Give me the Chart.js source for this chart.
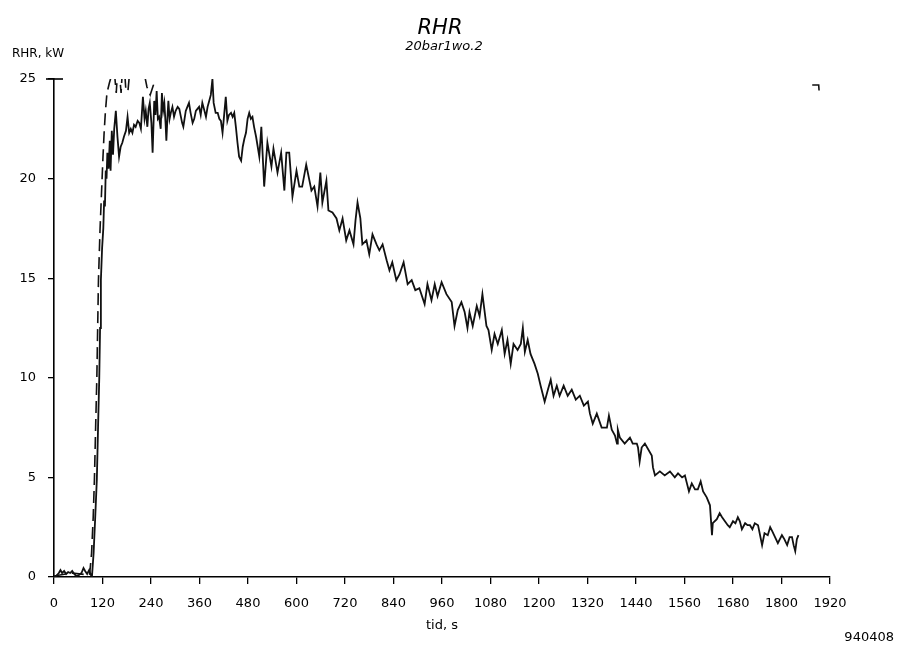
<!DOCTYPE html>
<html>
<head>
<meta charset="utf-8">
<title>RHR</title>
<script src="https://cdn.jsdelivr.net/npm/chart.js@4.4.1/dist/chart.umd.min.js"></script>
<style>
  html, body { margin: 0; padding: 0; background: #fff; }
  #wrap { width: 899px; height: 648px; }
</style>
</head>
<body>
<div id="wrap"><canvas id="rhrChart" width="899" height="648"></canvas></div>
<script>
// Solid trace: time (s) and heat release rate (kW)
var tid = [
  0, 5, 12, 16, 20, 25, 30, 35, 40, 45, 50, 55, 62, 68, 73, 77, 82, 87, 91, 94,
  98, 102, 106, 109, 112, 114, 116, 119, 122, 124, 126, 128, 130, 132, 135, 138, 140, 143, 146, 149,
  153, 157, 161, 165, 169, 173, 178, 182, 186, 190, 194, 198, 202, 207, 211, 215, 220, 224, 227, 231,
  234, 237, 241, 244, 248, 251, 254, 257, 260, 264, 267, 270, 273, 276, 278, 281, 283, 286, 289, 293,
  297, 301, 306, 310, 314, 317, 320, 323, 326, 330, 334, 338, 343, 347, 351, 355, 359, 363, 367, 371,
  376, 380, 384, 388, 392, 395, 400, 405, 409, 413, 417, 421, 425, 429, 433, 438, 442, 446, 450, 454,
  458, 463, 467, 471, 475, 479, 483, 487, 491, 495, 500, 508, 513, 520, 528, 538, 543, 553, 562, 570,
  575, 582, 590, 600, 607, 614, 624, 637, 644, 652, 659, 664, 674, 679, 689, 699, 706, 714, 723, 731,
  741, 746, 751, 758, 763, 773, 780, 788, 798, 805, 813, 823, 830, 837, 847, 855, 865, 875, 885, 894,
  904, 917, 924, 934, 942, 949, 959, 971, 984, 991, 999, 1008, 1016, 1023, 1028, 1036, 1046, 1053, 1060, 1070,
  1075, 1083, 1090, 1098, 1108, 1115, 1122, 1130, 1137, 1147, 1155, 1160, 1165, 1172, 1179, 1189, 1197, 1204, 1214, 1222,
  1229, 1236, 1244, 1251, 1261, 1271, 1281, 1291, 1301, 1311, 1321, 1326, 1333, 1343, 1355, 1368, 1373, 1380, 1388, 1393,
  1395, 1400, 1412, 1425, 1432, 1442, 1445, 1449, 1454, 1462, 1479, 1482, 1487, 1499, 1511, 1524, 1536, 1544, 1554, 1561,
  1566, 1571, 1578, 1586, 1593, 1600, 1606, 1615, 1623, 1628, 1630, 1640, 1647, 1653, 1660, 1667, 1672, 1680, 1686, 1692,
  1697, 1702, 1710, 1716, 1722, 1728, 1734, 1742, 1752, 1758, 1766, 1772, 1777, 1784, 1791, 1801, 1807, 1814, 1820, 1826,
  1830, 1834, 1838, 1842
];
var rhr = [
  0, 0.05, 0.2, 0.35, 0.2, 0.3, 0.15, 0.25, 0.2, 0.3, 0.15, 0.05, 0.1, 0.2, 0.45, 0.3, 0.15, 0.35, 0.1, 0.05,
  1.2, 3.0, 4.9, 7.5, 10.0, 12.5, 14.9, 16.5, 17.5, 18.9, 18.6, 20.4, 20.0, 21.3, 20.5, 21.9, 20.4, 22.4, 21.2, 22.5,
  23.4, 22.1, 21.1, 21.6, 21.8, 22.1, 22.4, 23.1, 22.3, 22.5, 22.3, 22.7, 22.6, 22.9, 22.8, 22.5, 24.1, 23.0, 23.4, 22.6,
  23.5, 23.8, 22.8, 21.3, 23.9, 23.2, 24.4, 23.0, 23.1, 22.5, 24.3, 23.4, 23.8, 22.8, 21.9, 23.2, 23.9, 23.0, 23.3, 23.6,
  23.1, 23.4, 23.6, 23.5, 23.1, 22.8, 22.6, 23.0, 23.4, 23.6, 23.8, 23.3, 22.8, 23.0, 23.4, 23.5, 23.6, 23.2, 23.8, 23.5,
  23.1, 23.6, 23.9, 24.2, 25.0, 23.8, 23.3, 23.3, 23.0, 22.9, 22.3, 23.2, 24.1, 22.9, 23.2, 23.3, 23.1, 23.3, 22.6, 21.8,
  21.1, 20.9, 21.6, 22.0, 22.3, 23.0, 23.3, 23.0, 23.1, 22.6, 22.1, 21.1, 22.6, 19.6, 21.8, 20.6, 21.5, 20.3, 21.3, 19.4,
  21.3, 21.3, 19.1, 20.4, 19.6, 19.6, 20.7, 19.4, 19.6, 18.6, 20.3, 18.8, 19.9, 18.4, 18.3, 18.0, 17.4, 18.0, 16.9, 17.4,
  16.7, 17.9, 18.8, 18.0, 16.7, 16.9, 16.2, 17.2, 16.7, 16.4, 16.7, 15.9, 15.4, 15.8, 14.9, 15.2, 15.8, 14.7, 14.9, 14.4,
  14.5, 13.7, 14.7, 13.9, 14.7, 14.1, 14.8, 14.2, 13.8, 12.6, 13.4, 13.8, 13.3, 12.5, 13.3, 12.6, 13.6, 13.1, 14.2, 12.6,
  12.4, 11.4, 12.2, 11.7, 12.4, 11.2, 11.9, 10.7, 11.7, 11.4, 11.7, 12.5, 11.3, 11.9, 11.2, 10.7, 10.2, 9.6, 8.8, 9.4,
  9.9, 9.1, 9.6, 9.1, 9.6, 9.1, 9.4, 8.9, 9.1, 8.6, 8.8, 8.2, 7.7, 8.2, 7.5, 7.5, 8.1, 7.4, 7.1, 6.7,
  7.4, 7.0, 6.7, 7.0, 6.7, 6.7, 6.5, 5.8, 6.5, 6.7, 6.1, 5.5, 5.1, 5.3, 5.1, 5.3, 5.0, 5.2, 5.0, 5.1,
  4.7, 4.3, 4.7, 4.4, 4.4, 4.8, 4.3, 4.0, 3.6, 2.1, 2.7, 2.9, 3.2, 3.0, 2.8, 2.6, 2.5, 2.8, 2.7, 3.0,
  2.8, 2.4, 2.7, 2.6, 2.6, 2.4, 2.7, 2.6, 1.6, 2.2, 2.1, 2.5, 2.3, 2.0, 1.7, 2.1, 1.9, 1.6, 2.0, 2.0,
  1.6, 1.3, 1.9, 2.1
];

// Dashed trace: mostly runs above the 25 kW ceiling, so only its edges show
var tidB = [
  0, 45, 88, 93, 97, 100, 103, 106, 110, 114, 118, 121, 124, 127, 131, 137, 144, 150, 154, 157,
  162, 166, 169, 175, 178, 183, 187, 195, 215, 222, 230, 238, 246, 252, 270, 400, 700, 1000, 1300, 1600,
  1860, 1870, 1876, 1892, 1893
];
var rhrB = [
  0.05, 0.2, 0.1, 1.2, 3.0, 4.9, 7.5, 10.0, 14.9, 17.5, 19.5, 21.0, 22.3, 23.3, 24.3, 24.8, 25.3, 25.2, 24.3, 25.3,
  25.3, 24.3, 25.4, 25.3, 24.4, 24.4, 25.3, 26.5, 26.0, 25.4, 24.6, 24.2, 24.7, 25.5, 27.5, 29, 28, 27, 26.5, 26,
  25.8, null, 24.7, 24.7, 24.4
];

var xMax = 1920, xStep = 120;
var yMax = 25, yStep = 5;

function toPoints(xs, ys) {
  return xs.map(function(x, i) { return { x: x, y: ys[i] }; });
}

Chart.defaults.font.family = '"DejaVu Sans", sans-serif';
Chart.defaults.color = '#000';

// captions outside the axes, plus the cap bar at the top of the y axis
var captions = {
  id: 'captions',
  afterDraw: function(chart) {
    var ctx = chart.ctx;
    var area = chart.chartArea;
    var mid = (area.left + area.right) / 2;
    ctx.save();
    ctx.fillStyle = '#000';
    ctx.strokeStyle = '#000';
    ctx.textBaseline = 'alphabetic';

    var yTop = chart.scales.y.getPixelForValue(yMax);
    ctx.lineWidth = 1.6;
    ctx.beginPath();
    ctx.moveTo(area.left - 8, yTop);
    ctx.lineTo(area.left + 9, yTop);
    ctx.stroke();

    ctx.textAlign = 'center';
    ctx.font = 'italic 21px "DejaVu Sans"';
    ctx.fillText('RHR', mid - 2, 34);
    ctx.font = 'italic 13px "DejaVu Sans"';
    ctx.fillText('20bar1wo.2', mid + 2, 50);

    ctx.font = '13px "DejaVu Sans"';
    ctx.fillText('tid, s', mid, 629);

    ctx.textAlign = 'left';
    ctx.font = '12px "DejaVu Sans"';
    ctx.fillText('RHR, kW', 12, 57);

    ctx.textAlign = 'right';
    ctx.font = '13px "DejaVu Sans"';
    ctx.fillText('940408', 894, 641);
    ctx.restore();
  }
};

var ctx = document.getElementById('rhrChart').getContext('2d');
new Chart(ctx, {
  type: 'line',
  data: {
    datasets: [
      {
        data: toPoints(tid, rhr),
        borderColor: '#111',
        borderWidth: 1.8,
        pointRadius: 0,
        tension: 0,
        fill: false
      },
      {
        data: toPoints(tidB, rhrB),
        borderColor: '#111',
        borderWidth: 1.6,
        borderDash: [12, 6],
        pointRadius: 0,
        tension: 0,
        spanGaps: false,
        fill: false
      }
    ]
  },
  options: {
    responsive: false,
    animation: false,
    devicePixelRatio: 1,
    layout: { padding: { top: 79, right: 69, left: 0, bottom: 0 } },
    plugins: {
      legend: { display: false },
      tooltip: { enabled: false },
      title: { display: false }
    },
    scales: {
      x: {
        type: 'linear',
        min: 0,
        max: xMax,
        ticks: {
          stepSize: xStep, autoSkip: false, maxRotation: 0, padding: 12, font: { size: 13 },
          callback: function(v) { return String(v); }
        },
        grid: { drawOnChartArea: false, drawTicks: true, tickLength: 7, color: '#000', lineWidth: 1.3 },
        border: { display: true, color: '#000', width: 1.6 },
        afterFit: function(scale) { scale.height = 71; }
      },
      y: {
        min: 0,
        max: yMax,
        ticks: {
          stepSize: yStep, padding: 12, font: { size: 13 },
          callback: function(v) { return String(v); }
        },
        grid: { drawOnChartArea: false, drawTicks: true, tickLength: 6, color: '#000', lineWidth: 1.3 },
        border: { display: true, color: '#000', width: 1.6 },
        afterFit: function(scale) { scale.width = 54; }
      }
    }
  },
  plugins: [captions]
});
</script>
</body>
</html>
